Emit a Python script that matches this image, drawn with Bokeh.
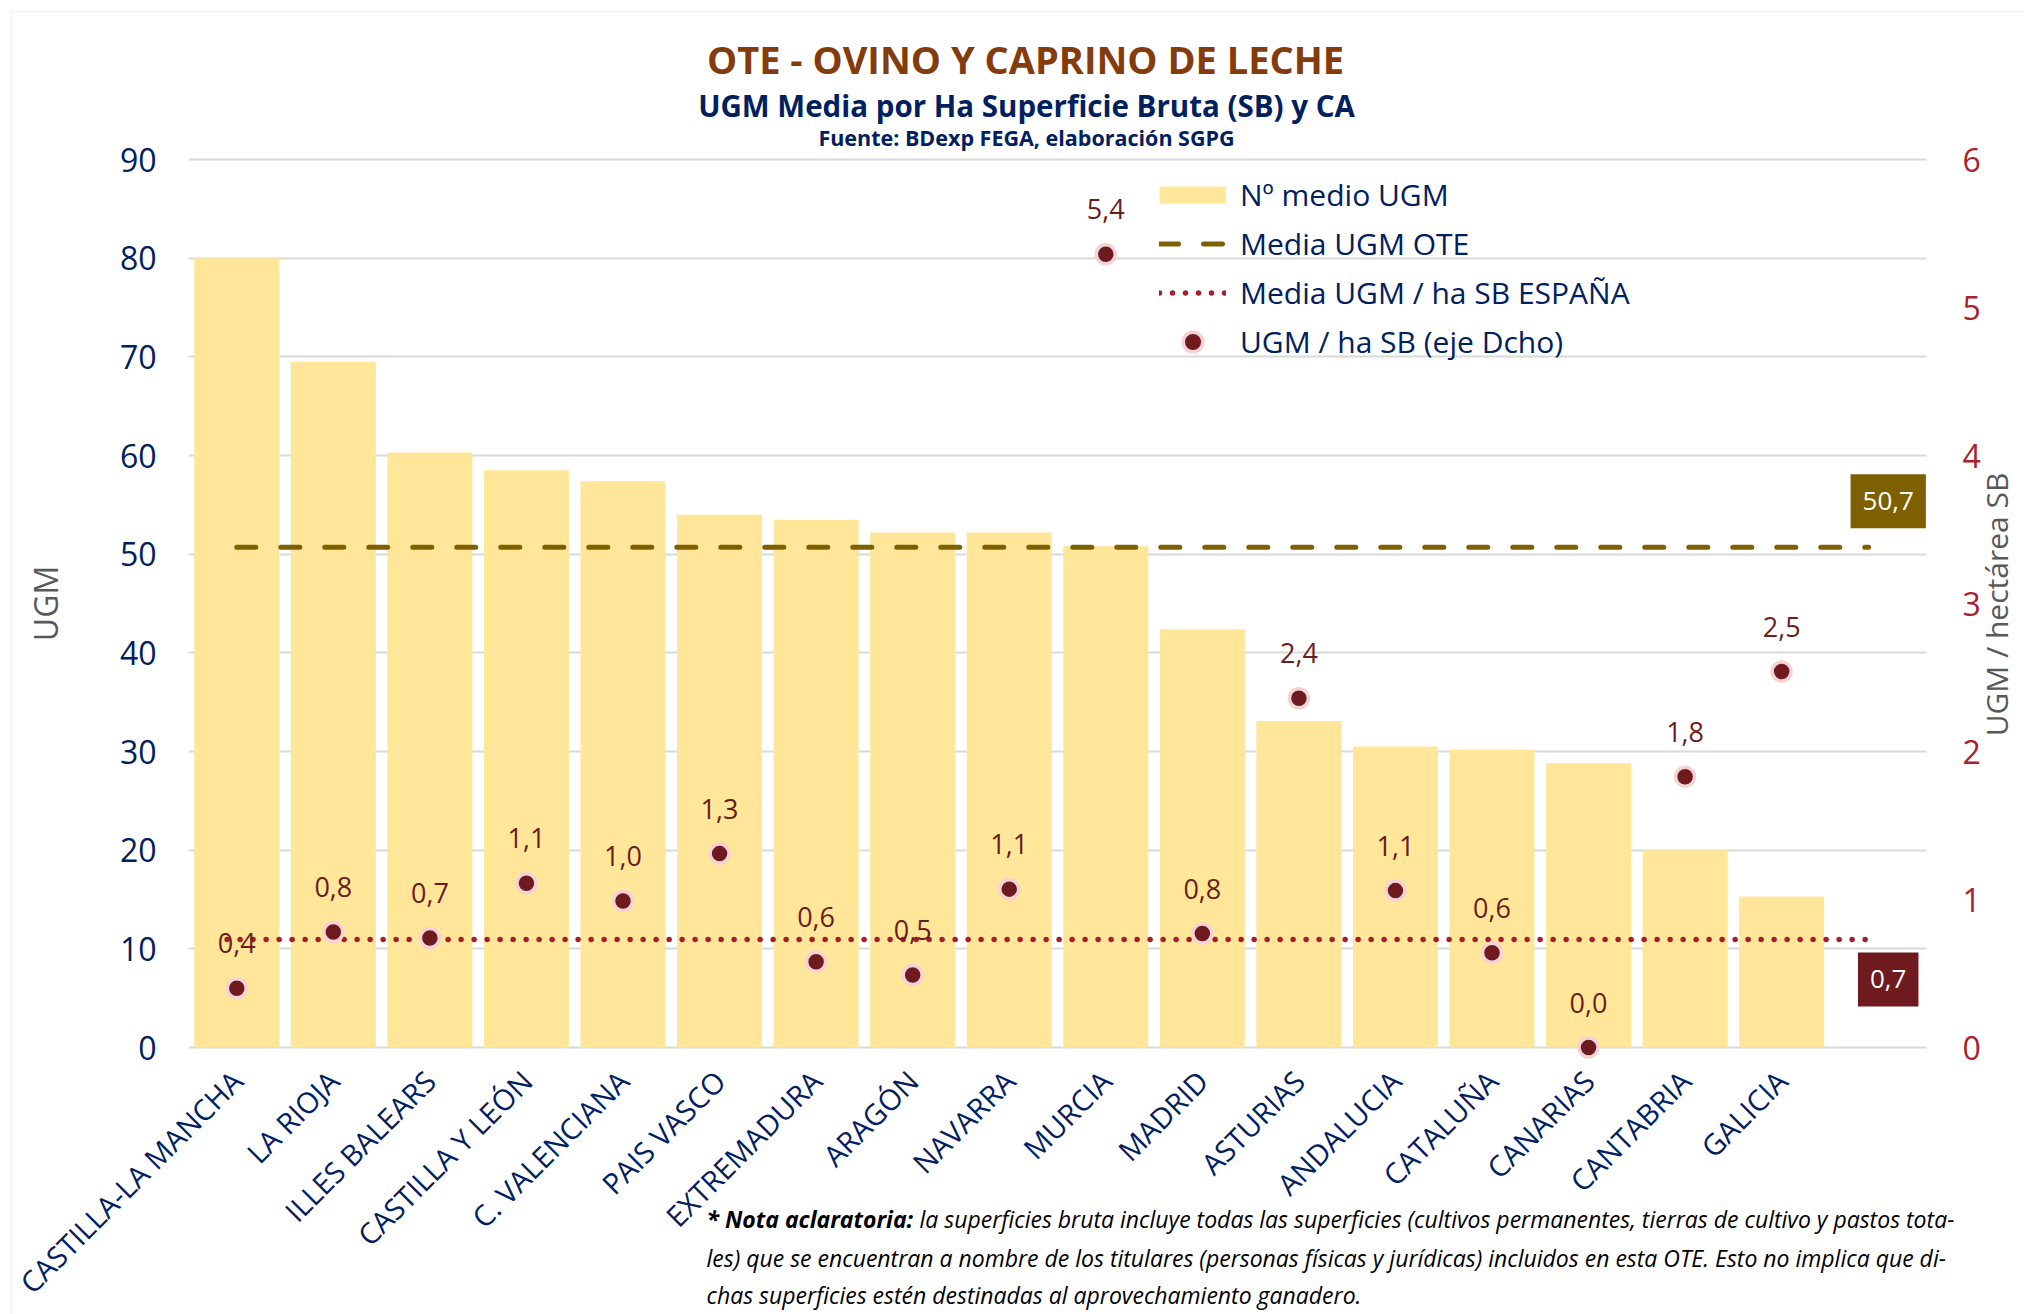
import math
import numpy as np
from bokeh.plotting import figure
from bokeh.models import (Range1d, LinearAxis, Label, Legend, LegendItem,
                          ColumnDataSource, FixedTicker, BoxAnnotation)
from bokeh.embed import file_html
from bokeh.resources import INLINE
from bokeh.core.properties import value

# ---------------- data ----------------
regions = ["CASTILLA-LA MANCHA", "LA RIOJA", "ILLES BALEARS", "CASTILLA Y LEÓN",
           "C. VALENCIANA", "PAIS VASCO", "EXTREMADURA", "ARAGÓN", "NAVARRA",
           "MURCIA", "MADRID", "ASTURIAS", "ANDALUCIA", "CATALUÑA", "CANARIAS",
           "CANTABRIA", "GALICIA"]
ugm_medio = [80.0, 69.5, 60.3, 58.5, 57.4, 54.0, 53.5, 52.2, 52.2, 50.8,
             42.4, 33.1, 30.5, 30.2, 28.8, 20.0, 15.3]
ugm_ha_sb = [0.40, 0.78, 0.74, 1.11, 0.99, 1.31, 0.58, 0.49, 1.07, 5.36,
             0.77, 2.36, 1.06, 0.64, 0.00, 1.83, 2.54]
media_ugm_ote = 50.7
media_ugm_ha_espana = 0.73
left_ticks = [0, 10, 20, 30, 40, 50, 60, 70, 80, 90]
right_ticks = [0, 1, 2, 3, 4, 5, 6]

def fmt(v):
    return f"{v:.1f}".replace(".", ",")

FONT = "Open Sans"
NAVY = "#002060"
BAR = "#FFE699"
OLIVE = "#7F6000"
MAROON = "#6E1A1E"
DOTRED = "#A61E2B"

# ---------------- layout (page pixels) ----------------
W, H = 2024, 1314
PX_LEFT, PX_RIGHT = 188, 1926     # plot area left / right edge
PY_TOP, PY_ZERO = 159, 1047       # y=90 (and 6) / y=0
n = len(regions)
idx = list(range(n))
L_MAX, R_MAX = left_ticks[-1], right_ticks[-1]

x_per = (PX_RIGHT - PX_LEFT) / (n + 1)
x_rng = Range1d(-0.5 - PX_LEFT / x_per, n + 0.5 + (W - PX_RIGHT) / x_per)
y_per = (PY_ZERO - PY_TOP) / L_MAX
y_rng = Range1d(-(H - PY_ZERO) / y_per, L_MAX + PY_TOP / y_per)
r_per = (PY_ZERO - PY_TOP) / R_MAX
r_rng = Range1d(-(H - PY_ZERO) / r_per, R_MAX + PY_TOP / r_per)

def sy(Y):          # page y -> screen units (from bottom)
    return H - Y

p = figure(width=W, height=H, output_backend="svg", toolbar_location=None,
           x_range=x_rng, y_range=y_rng,
           min_border_left=0, min_border_right=0, min_border_top=0,
           min_border_bottom=0, background_fill_color="white",
           border_fill_color="white", outline_line_color=None)
p.extra_y_ranges = {"right": r_rng}

# grid
p.xgrid.grid_line_color = None
p.ygrid.ticker = FixedTicker(ticks=left_ticks)
p.ygrid.grid_line_color = "#D9D9D9"
p.ygrid.grid_line_width = 2
p.ygrid.bounds = (0, L_MAX)
p.ygrid.cross_bounds = (-0.5, n + 0.5)

# left axis
ya = p.yaxis[0]
ya.fixed_location = -0.5
ya.bounds = (0, L_MAX)
ya.ticker = FixedTicker(ticks=left_ticks)
ya.axis_line_color = None
ya.major_tick_line_color = None
ya.minor_tick_line_color = None
ya.major_label_standoff = 26
ya.major_label_text_font = FONT
ya.major_label_text_font_size = "32px"
ya.major_label_text_color = NAVY
ya.axis_label = "UGM"
ya.axis_label_text_font = FONT
ya.axis_label_text_font_size = "32px"
ya.axis_label_text_font_style = "normal"
ya.axis_label_text_color = "#595959"
ya.axis_label_standoff = 50

# right axis
ra = LinearAxis(y_range_name="right", ticker=FixedTicker(ticks=right_ticks),
                fixed_location=n + 0.5, bounds=(0, R_MAX))
ra.axis_line_color = None
ra.major_tick_line_color = None
ra.minor_tick_line_color = None
ra.major_label_standoff = 30
ra.major_label_text_font = FONT
ra.major_label_text_font_size = "32px"
ra.major_label_text_color = "#A8232D"
p.add_layout(ra, "right")

# right axis title
p.add_layout(Label(x=1996, y=sy(604), x_units="screen", y_units="screen",
                   text="UGM / hectárea SB", angle=math.pi / 2,
                   text_align="center", text_baseline="middle", text_font=FONT,
                   text_font_size="30px", text_color="#595959"))

# x axis
xa = p.xaxis[0]
xa.fixed_location = 0
xa.ticker = FixedTicker(ticks=idx)
xa.major_label_overrides = {i: r for i, r in enumerate(regions)}
xa.major_label_orientation = math.pi / 4
xa.axis_line_color = None
xa.major_tick_line_color = None
xa.minor_tick_line_color = None
xa.major_label_standoff = 22
xa.major_label_text_font = FONT
xa.major_label_text_font_size = "29px"
xa.major_label_text_color = NAVY

# bars
src = ColumnDataSource(dict(x=idx, top=ugm_medio, sb=ugm_ha_sb,
                            lab=[fmt(v) for v in ugm_ha_sb]))
p.vbar(x="x", top="top", bottom=0, width=0.88, source=src,
       fill_color=BAR, line_color=None)

# mean lines
l_ote = p.line(x=[0, n - 0.1], y=[media_ugm_ote, media_ugm_ote], line_color=OLIVE,
               line_width=5, line_dash="19 25", line_cap="round")
l_esp = p.line(x=[-0.1, n - 0.1], y=[media_ugm_ha_espana, media_ugm_ha_espana],
               y_range_name="right", line_color=DOTRED, line_width=5.5,
               line_dash="0 13", line_cap="round")

# points
pts = p.scatter(x="x", y="sb", source=src, y_range_name="right", size=19,
                fill_color=MAROON, line_color="#F3D3D6", line_width=3.5)
p.text(x="x", y="sb", text="lab", source=src, y_range_name="right",
       y_offset=-45, text_align="center", text_baseline="middle",
       text_font=value(FONT), text_font_size="27px", text_color="#6B1C1C")

# legend swatch for bars (thin band as in the original)
bar_sw = p.line(x=np.array([0.0, 1.0]), y=np.array([np.nan, np.nan]),
                line_color=BAR, line_width=17, line_cap="butt")

legend = Legend(items=[
    LegendItem(label="Nº medio UGM", renderers=[bar_sw]),
    LegendItem(label="Media UGM OTE", renderers=[l_ote]),
    LegendItem(label="Media UGM / ha SB ESPAÑA", renderers=[l_esp]),
    LegendItem(label="UGM / ha SB (eje Dcho)", renderers=[pts]),
], location=(1159, sy(366)), orientation="vertical",
   glyph_width=67, glyph_height=49, label_height=49, spacing=0, padding=0,
   margin=0, label_standoff=14, label_text_font=FONT,
   label_text_font_size="30px", label_text_color=NAVY,
   background_fill_alpha=0, border_line_alpha=0)
p.add_layout(legend, "center")

# value boxes on the right
p.add_layout(Label(x=n, y=media_ugm_ote, x_offset=10, y_offset=46,
                   text=fmt(media_ugm_ote), text_align="center",
                   text_baseline="middle", text_font=FONT,
                   text_font_size="26px", text_color="white",
                   background_fill_color=OLIVE, padding=(12, 18)))
p.add_layout(Label(x=n, y=media_ugm_ha_espana, y_range_name="right",
                   x_offset=10, y_offset=-40, text=fmt(media_ugm_ha_espana),
                   text_align="center", text_baseline="middle", text_font=FONT,
                   text_font_size="26px", text_color="white",
                   background_fill_color=MAROON, padding=(12, 18)))

# titles
p.add_layout(Label(x=1025, y=sy(58), x_units="screen", y_units="screen",
                   text="OTE - OVINO Y CAPRINO DE LECHE", text_align="center",
                   text_baseline="middle", text_font=FONT, text_font_style="bold",
                   text_font_size="38px", text_color="#843C0C"))
p.add_layout(Label(x=1026, y=sy(105), x_units="screen", y_units="screen",
                   text="UGM Media por Ha Superficie Bruta (SB) y CA",
                   text_align="center", text_baseline="middle", text_font=FONT,
                   text_font_style="bold", text_font_size="29.5px", text_color=NAVY))
p.add_layout(Label(x=1026, y=sy(137), x_units="screen", y_units="screen",
                   text="Fuente: BDexp FEGA, elaboración SGPG",
                   text_align="center", text_baseline="middle", text_font=FONT,
                   text_font_style="bold", text_font_size="21.5px", text_color=NAVY))

# explanatory note
note_bold = "* Nota aclaratoria:"
note_lines = [
    "la superficies bruta incluye todas las superficies (cultivos permanentes, tierras de cultivo y pastos tota-",
    "les) que se encuentran a nombre de los titulares (personas físicas y jurídicas) incluidos en esta OTE. Esto no implica que di-",
    "chas superficies estén destinadas al aprovechamiento ganadero.",
]
NOTE_FS = "23px"
NOTE_X = 706
p.add_layout(Label(x=NOTE_X, y=sy(1218), x_units="screen", y_units="screen",
                   text=note_bold, text_align="left", text_baseline="middle",
                   text_font=FONT, text_font_style="bold italic",
                   text_font_size=NOTE_FS, text_color="black"))
p.add_layout(Label(x=NOTE_X + 213, y=sy(1218), x_units="screen", y_units="screen",
                   text=note_lines[0], text_align="left", text_baseline="middle",
                   text_font=FONT, text_font_style="italic",
                   text_font_size=NOTE_FS, text_color="black"))
for i, ypg in ((1, 1257), (2, 1294)):
    p.add_layout(Label(x=NOTE_X, y=sy(ypg), x_units="screen", y_units="screen",
                       text=note_lines[i], text_align="left",
                       text_baseline="middle", text_font=FONT,
                       text_font_style="italic", text_font_size=NOTE_FS,
                       text_color="black"))

# outer chart border (left and top edges visible)
p.add_layout(BoxAnnotation(left=11, right=W + 30, top=sy(11), bottom=-30,
                           left_units="screen", right_units="screen",
                           top_units="screen", bottom_units="screen",
                           fill_alpha=0, line_color="#D9D9D9", line_width=2))

open("out.html", "w").write(file_html(p, INLINE))
